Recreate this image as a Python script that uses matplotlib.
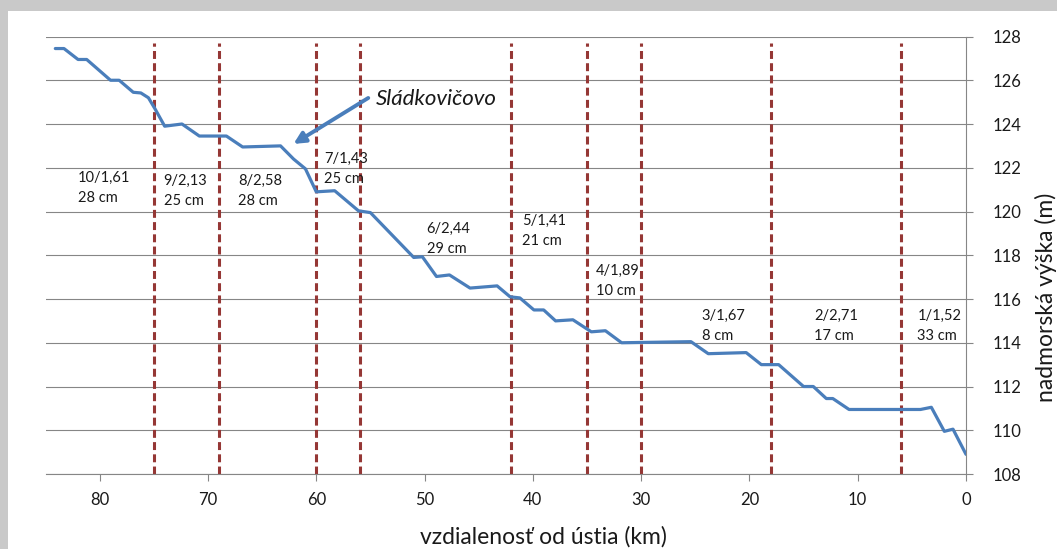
import numpy as np
import matplotlib as mpl
from matplotlib import pyplot as plt
from matplotlib.patches import Rectangle

plt.rcParams['font.family'] = ['Lato', 'DejaVu Sans']

# River profile ---------------------------------------------------------------
dist_km = [84.1, 83.3, 82.0, 81.2, 79.0, 78.2, 76.9, 76.2, 75.5, 74.9, 74.0,
           72.4, 70.8, 68.3, 66.8, 63.3, 62.1, 61.0, 60.0, 58.3, 56.1, 55.0,
           51.0, 50.2, 48.9, 47.7, 45.8, 43.3, 42.1, 41.2, 39.9, 39.0, 37.9,
           36.3, 34.6, 33.3, 31.8, 25.4, 23.8, 20.3, 18.9, 17.3, 15.0, 14.1,
           12.9, 12.3, 10.8, 4.2, 3.2, 2.0, 1.2, 0.0]
elev_m = [127.45, 127.45, 126.95, 126.95, 126.0, 126.0, 125.45, 125.42, 125.2,
          124.7, 123.9, 124.0, 123.45, 123.45, 122.95, 123.0, 122.4, 121.95,
          120.9, 120.95, 120.03, 119.95, 117.9, 117.93, 117.03, 117.1, 116.5,
          116.6, 116.1, 116.05, 115.5, 115.5, 115.0, 115.05, 114.5, 114.55,
          114.0, 114.05, 113.5, 113.55, 113.0, 113.0, 112.0, 112.0, 111.45,
          111.45, 110.95, 110.95, 111.05, 109.95, 110.05, 108.9]

# Section borders (km) --------------------------------------------------------
borders_km = [75, 69, 60, 56, 42, 35, 30, 18, 6]
border_top = 127.7

# Section labels: number/slope and depth -----------------------------------
sec_label = ['10/1,61', '9/2,13', '8/2,58', '7/1,43', '6/2,44',
             '5/1,41', '4/1,89', '3/1,67', '2/2,71', '1/1,52']
sec_depth = ['28 cm', '25 cm', '28 cm', '25 cm', '29 cm',
             '21 cm', '10 cm', '8 cm', '17 cm', '33 cm']
sec_x = [82.0, 74.1, 67.2, 59.3, 49.8, 41.0, 34.2, 24.4, 14.05, 4.5]
sec_y = [121.55, 121.4, 121.4, 122.4, 119.2, 119.57, 117.27, 115.24, 115.24, 115.24]

xticks = [80, 70, 60, 50, 40, 30, 20, 10, 0]
yticks = [108, 110, 112, 114, 116, 118, 120, 122, 124, 126, 128]

# Colors ------------------------------------------------------------------------
c_line = '#4a7ebb'
c_dash = '#953735'
c_grid = '#868686'
c_text = '#1a1a1a'

fig = plt.figure(figsize=(10.57, 5.49), dpi=100)
fig.patch.set_facecolor('white')
# gray frame (top and left)
fig.patches.append(Rectangle((0, 1 - 11/549), 1, 11/549, transform=fig.transFigure,
                             facecolor='#c9c9c9', edgecolor='none', zorder=0))
fig.patches.append(Rectangle((0, 0), 8/1057, 1, transform=fig.transFigure,
                             facecolor='#c9c9c9', edgecolor='none', zorder=0))

ax = fig.add_axes([0.0431, 0.1366, 0.9139 - 0.0431, 0.9335 - 0.1366])
ax.set_xlim(85, 0)
ax.set_ylim(108, 128)
ax.set_xticks(xticks)
ax.set_yticks(yticks)
ax.yaxis.tick_right()
ax.grid(axis='y', color=c_grid, lw=0.8, zorder=1)
for s in ['left', 'top']:
    ax.spines[s].set_visible(False)
for s in ['right', 'bottom']:
    ax.spines[s].set_color(c_grid)
    ax.spines[s].set_linewidth(0.8)
ax.tick_params(axis='both', colors=c_grid, length=5, width=0.8,
               labelcolor=c_text, labelsize=12)
ax.tick_params(axis='y', pad=14)
ax.tick_params(axis='x', pad=8)

# section borders
for xb in borders_km:
    ax.plot([xb, xb], [108, border_top], color=c_dash, lw=2.2,
            dashes=(2.6, 1.4), zorder=2, solid_capstyle='butt')

# profile
ax.plot(dist_km, elev_m, color=c_line, lw=2.3, zorder=3,
        solid_joinstyle='round', solid_capstyle='round')

# section labels
for lab, dep, x, y in zip(sec_label, sec_depth, sec_x, sec_y):
    ax.text(x, y, lab, ha='left', va='center', fontsize=10.5, color=c_text, zorder=4)
    ax.annotate(dep, (x, y), xytext=(0, -14.4), textcoords='offset points',
                ha='left', va='center', fontsize=10.5, color=c_text, zorder=4)

# Sládkovičovo arrow
ax.annotate('', xy=(62.1, 123.09), xytext=(55.2, 125.19),
            arrowprops=dict(arrowstyle='-|>', color=c_line, lw=2.8,
                            mutation_scale=17, shrinkA=0, shrinkB=0), zorder=5)
ax.text(54.5, 125.15, 'Sládkovičovo', ha='left', va='center', fontsize=16,
        style='italic', color=c_text, zorder=5)

fig.text(543/1057, 1 - 537/549, 'vzdialenosť od ústia (km)', ha='center',
         va='center', fontsize=16.5, color=c_text)
fig.text(1046/1057, 1 - 297/549, 'nadmorská výška (m)', ha='center',
         va='center', rotation=90, fontsize=16.5, color=c_text)

fig.savefig('out.png', dpi=100, facecolor='white')
